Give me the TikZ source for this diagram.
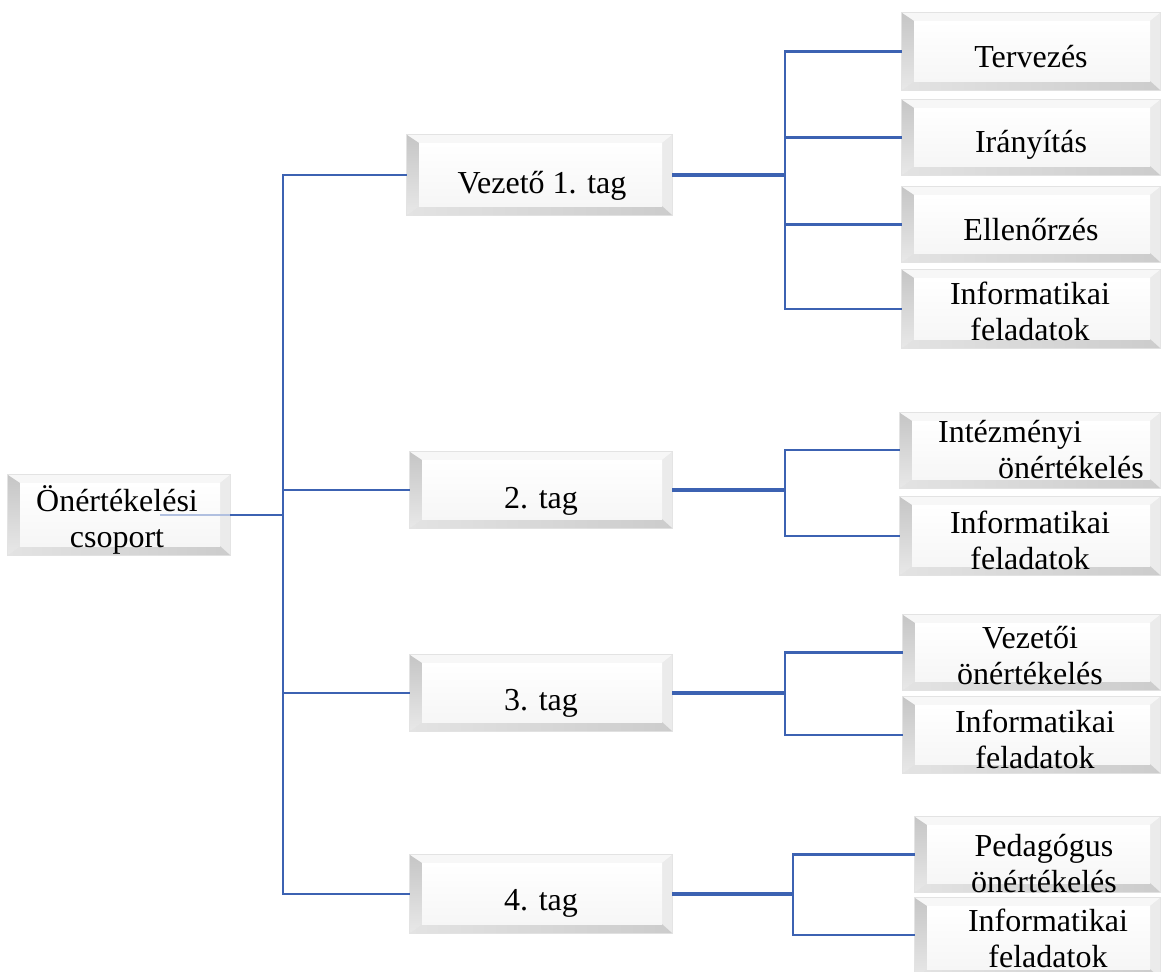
\documentclass[tikz,border=0pt]{standalone}
\usepackage{fontspec}
\setmainfont{Liberation Serif}
\usetikzlibrary{fit}
\definecolor{connblue}{RGB}{60,98,178}
\tikzset{
  conn/.style={draw=connblue, line width=2.6pt},
  thickconn/.style={draw=connblue, line width=3.6pt},
  lbl/.style={align=center, inner sep=0pt, font=\fontsize{32}{36}\selectfont, text=black},
  boxframe/.style={fit={#1}, inner sep=0pt}
}
\newcommand\bvbox[5]{%
  \path[draw=gray!22, line width=1.5pt, fill=gray!10] (#2,#3) rectangle (#4,#5);
  \fill[gray!6] (#2,#3) -- (#4,#3) -- (#4-10,#3+8) -- (#2+12,#3+8) -- cycle;
  \fill[gray!16] (#4,#3) -- (#4,#5) -- (#4-10,#5-9) -- (#4-10,#3+8) -- cycle;
  \shade[top color=gray!45, bottom color=gray!18] (#2,#3) -- (#2+12,#3+8) -- (#2+12,#5-9) -- (#2,#5) -- cycle;
  \shade[left color=gray!22, right color=gray!40] (#2,#5) -- (#2+12,#5-9) -- (#4-10,#5-9) -- (#4,#5) -- cycle;
  \shade[top color=white, bottom color=gray!7] (#2+12,#3+8) rectangle (#4-10,#5-9);
  \node[boxframe={(#2,#3) (#4,#5)}] (#1) {};%
}
\begin{document}
\begin{tikzpicture}[x=1pt,y=-1pt]
\useasboundingbox (0,0) rectangle (1163,972);
\clip (0,0) rectangle (1163,972);
\fill[white] (0,0) rectangle (1163,972);

% boxes
\bvbox{root}{8}{475}{230}{555}
\bvbox{m1}{407}{135}{672}{215}
\bvbox{m2}{410}{452}{672}{528}
\bvbox{m3}{410}{655}{672}{731}
\bvbox{m4}{410}{855}{672}{933}

\bvbox{r11}{902}{13}{1160}{90}
\bvbox{r12}{902}{100}{1160}{175}
\bvbox{r13}{902}{187}{1160}{262}
\bvbox{r14}{902}{270}{1160}{348}

\bvbox{r21}{900}{413}{1160}{488}
\bvbox{r22}{900}{497}{1160}{575}

\bvbox{r31}{903}{615}{1160}{690}
\bvbox{r32}{903}{697}{1160}{773}

\bvbox{r41}{915}{817}{1160}{892}
\bvbox{r42}{915}{898}{1160}{978}

% labels
\node[lbl] (troot) at (117,522) {\strut Önértékelési\\\strut csoport};
\node[lbl] (tm1) at (542,186) {\strut Vezető 1. tag};
\node[lbl] (tm2) at (541,501) {\strut 2. tag};
\node[lbl] (tm3) at (541,703) {\strut 3. tag};
\node[lbl] (tm4) at (541,903) {\strut 4. tag};

\node[lbl] (t11) at (1031,60) {\strut Tervezés};
\node[lbl] (t12) at (1031,145) {\strut Irányítás};
\node[lbl] (t13) at (1031,233) {\strut Ellenőrzés};
\node[lbl] (t14) at (1030,315) {\strut Informatikai\\\strut feladatok};

\node[lbl, align=left] (t21) at (1041,453) {\strut Intézményi\\\strut\hspace*{60pt}önértékelés};
\node[lbl] (t22) at (1030,544) {\strut Informatikai\\\strut feladatok};

\node[lbl] (t31) at (1030,659) {\strut Vezetői\\\strut önértékelés};
\node[lbl] (t32) at (1035,743) {\strut Informatikai\\\strut feladatok};

\node[lbl] (t41) at (1044,867) {\strut Pedagógus\\\strut önértékelés};
\node[lbl] (t42) at (1048,942) {\strut Informatikai\\\strut feladatok};

% junctions
\coordinate (j0) at (283,515);
\coordinate (j1) at (785,175);
\coordinate (j2) at (785,490);
\coordinate (j3) at (785,693);
\coordinate (j4) at (793,894);

% connectors
\draw[draw=connblue!40, line width=2.6pt] (160,515) -- (root.east);
\draw[conn] (root.east |- j0) -- (j0);
\draw[conn] (j0) |- (m1.west);
\draw[conn] (j0) |- (m2.west);
\draw[conn] (j0) |- (m3.west);
\draw[conn] (j0) |- (m4.west);

\draw[thickconn] (m1.east) -- (j1);
\draw[conn] (j1) |- (r11.west);
\draw[conn] (j1) |- (r12.west);
\draw[conn] (j1) |- (r13.west);
\draw[conn] (j1) |- (r14.west);

\draw[thickconn] (m2.east) -- (j2);
\draw[conn] (j2) |- (r21.west |- 0,450);
\draw[conn] (j2) |- (r22.west);

\draw[thickconn] (m3.east) -- (j3);
\draw[conn] (j3) |- (r31.west);
\draw[conn] (j3) |- (r32.west);

\draw[thickconn] (m4.east) -- (j4);
\draw[conn] (j4) |- (r41.west);
\draw[conn] (j4) |- (r42.west |- 0,935);
\end{tikzpicture}
\end{document}
